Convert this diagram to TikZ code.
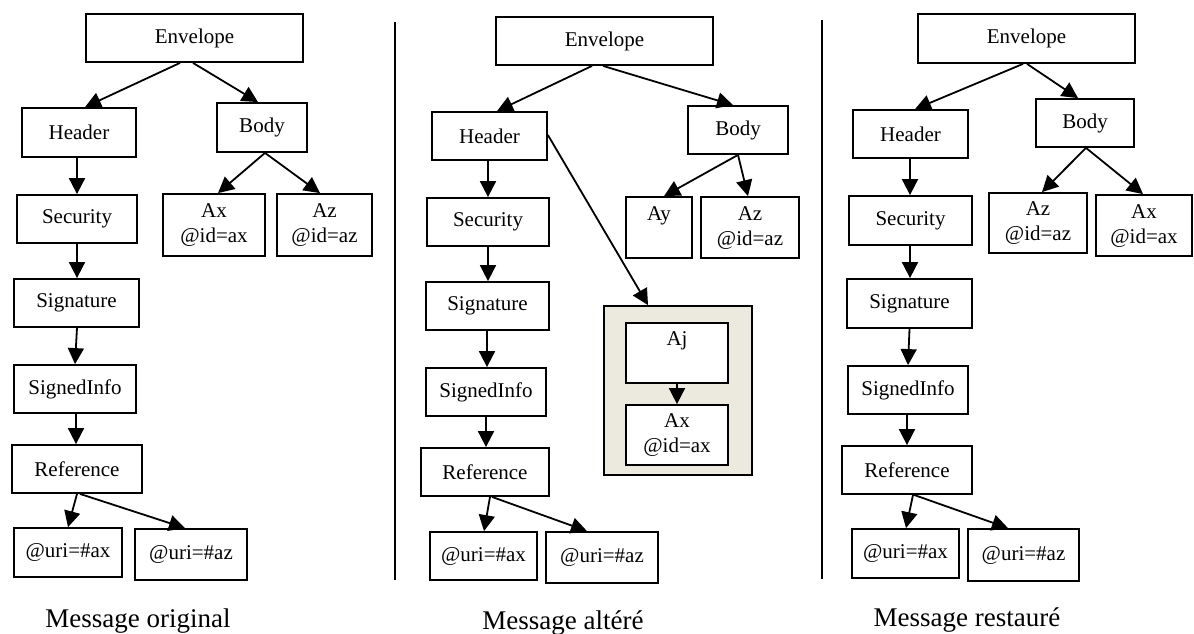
\documentclass[tikz,border=0pt]{standalone}
\usepackage{fontspec}
\setmainfont{Liberation Serif}
\usetikzlibrary{arrows.meta}
\definecolor{groupfill}{RGB}{236,233,223}
\tikzset{
  tb/.style={draw, line width=1.8pt, rectangle, inner sep=0pt, align=center,
             font=\fontsize{21}{25}\selectfont, fill=white},
  group/.style={draw, line width=1.8pt, rectangle, inner sep=0pt, fill=groupfill},
  link/.style={line width=1.8pt, -{Triangle[length=16pt,width=16pt]}},
  divider/.style={line width=1.5pt},
  caption/.style={font=\fontsize{27}{32}\selectfont}
}
% box from its corners: name, x1, y1, x2, y2, text
\newcommand\treebox[6]{%
  \node[tb, minimum width={(#4-#2)*1pt}, minimum height={(#5-#3)*1pt}]
    (#1) at ({(#2+#4)/2},{(#3+#5)/2}) {#6};}
\begin{document}
\begin{tikzpicture}[x=1pt, y=-1pt]
\useasboundingbox (0,0) rectangle (1194,633);

% ---------- original message ----------
\treebox{envA}{86}{14}{303}{62}{Envelope}
\treebox{hdrA}{22}{108}{136}{157}{Header}
\treebox{bodyA}{217}{103}{307}{152}{Body}
\treebox{axA}{163}{194}{265}{256}{Ax\strut\\@id=ax\strut}
\treebox{azA}{277}{194}{372}{256}{Az\strut\\@id=az\strut}
\treebox{secA}{17}{195}{137}{243}{Security}
\treebox{sigA}{14}{279}{139}{327}{Signature}
\treebox{siA}{14}{365}{136}{413}{SignedInfo}
\treebox{refA}{12}{445}{142}{493}{Reference}
\treebox{uaA}{14}{528}{122}{577}{@uri=\#ax}
\treebox{uzA}{135}{529}{247}{580}{@uri=\#az}

\draw[link] ([xshift=-14.5pt]envA.south) -- ([xshift=6pt]hdrA.north);
\draw[link] ([xshift=-1.5pt]envA.south) -- ([xshift=-4pt]bodyA.north);
\draw[link] ([xshift=-2pt]hdrA.south) -- (secA.north);
\draw[link] ([xshift=3pt]bodyA.south) -- ([xshift=4pt]axA.north);
\draw[link] ([xshift=3pt]bodyA.south) -- ([xshift=-4.5pt]azA.north);
\draw[link] (secA.south) -- ([xshift=0.5pt]sigA.north);
\draw[link] ([xshift=0.5pt]sigA.south) -- (siA.north);
\draw[link] ([xshift=1pt]siA.south) -- ([xshift=-1pt]refA.north);
\draw[link] (refA.south) -- (uaA.north);
\draw[link] ([xshift=3pt]refA.south) -- ([xshift=-6pt]uzA.north);

\node[caption] (capA) at (138,621) {Message original};

% ---------- separators ----------
\coordinate (sepAtop) at (395,22);
\coordinate (sepAbot) at (395,580);
\coordinate (sepBtop) at (822,20);
\coordinate (sepBbot) at (822,579);
\draw[divider] (sepAtop) -- (sepAbot);
\draw[divider] (sepBtop) -- (sepBbot);

% ---------- altered message ----------
\treebox{envB}{496}{17}{713}{65}{Envelope}
\treebox{hdrB}{432}{112}{547}{160}{Header}
\treebox{bodyB}{688}{106}{788}{154}{Body}
\treebox{ayB}{626}{197}{692}{258}{Ay\strut\\\strut}
\treebox{azB}{701}{197}{799}{258}{Az\strut\\@id=az\strut}
\treebox{secB}{427}{198}{549}{246}{Security}
\treebox{sigB}{426}{282}{549}{330}{Signature}
\treebox{siB}{426}{368}{546}{416}{SignedInfo}
\treebox{refB}{421}{448}{549}{496}{Reference}
\treebox{uaB}{430}{532}{537}{580}{@uri=\#ax}
\treebox{uzB}{546}{532}{658}{583}{@uri=\#az}
\node[group, minimum width=148pt, minimum height=169pt] (grpB) at (678,390.5) {};
\treebox{ajB}{626}{323}{728}{383}{Aj\strut\\\strut}
\treebox{axB}{626}{405}{728}{465}{Ax\strut\\@id=ax\strut}

\draw[link] ([xshift=-12.5pt]envB.south) -- ([xshift=7.5pt]hdrB.north);
\draw[link] ([xshift=-1.5pt]envB.south) -- ([xshift=-5pt]bodyB.north);
\draw[link] ([xshift=-1.5pt]hdrB.south) -- (secB.north);
\draw[link] (secB.south) -- ([xshift=0.5pt]sigB.north);
\draw[link] ([xshift=-0.5pt]sigB.south) -- ([xshift=1pt]siB.north);
\draw[link] (siB.south) -- ([xshift=1pt]refB.north);
\draw[link] ([xshift=5pt]refB.south) -- ([xshift=0.5pt]uaB.north);
\draw[link] ([xshift=7pt]refB.south) -- ([xshift=-15pt]uzB.north);
\draw[link] (bodyB.south) -- ([xshift=5pt]ayB.north);
\draw[link] (bodyB.south) -- ([xshift=-2pt]azB.north);
\draw[link] ([yshift=1pt]hdrB.east) -- ([xshift=-30pt]grpB.north);
\draw[link] (ajB.south) -- (axB.north);

\node[caption] (capB) at (563,623) {Message altéré};

% ---------- restored message ----------
\treebox{envC}{918}{14}{1135}{63}{Envelope}
\treebox{hdrC}{853}{110}{968}{158}{Header}
\treebox{bodyC}{1036}{99}{1134}{147}{Body}
\treebox{azC}{989}{193}{1087}{253}{Az\strut\\@id=az\strut}
\treebox{axC}{1096}{195}{1192}{256}{Ax\strut\\@id=ax\strut}
\treebox{secC}{849}{196}{972}{245}{Security}
\treebox{sigC}{847}{279}{972}{328}{Signature}
\treebox{siC}{848}{366}{968}{414}{SignedInfo}
\treebox{refC}{842}{446}{972}{494}{Reference}
\treebox{uaC}{852}{529}{959}{578}{@uri=\#ax}
\treebox{uzC}{968}{529}{1079}{581}{@uri=\#az}

\draw[link] ([xshift=-3.5pt]envC.south) -- ([xshift=4.5pt]hdrC.north);
\draw[link] ([xshift=0.5pt]envC.south) -- ([xshift=-7pt]bodyC.north);
\draw[link] ([xshift=-0.5pt]hdrC.south) -- ([xshift=-0.5pt]secC.north);
\draw[link] ([xshift=-0.5pt]secC.south) -- ([xshift=0.5pt]sigC.north);
\draw[link] (sigC.south) -- (siC.north);
\draw[link] ([xshift=-1pt]siC.south) -- (refC.north);
\draw[link] ([xshift=6pt]refC.south) -- ([xshift=0.5pt]uaC.north);
\draw[link] ([xshift=7pt]refC.south) -- ([xshift=-15.5pt]uzC.north);
\draw[link] ([xshift=1pt]bodyC.south) -- ([xshift=4pt]azC.north);
\draw[link] ([xshift=1pt]bodyC.south) -- ([xshift=-1pt]axC.north);

\node[caption] (capC) at (967,620) {Message restauré};
\end{tikzpicture}
\end{document}
